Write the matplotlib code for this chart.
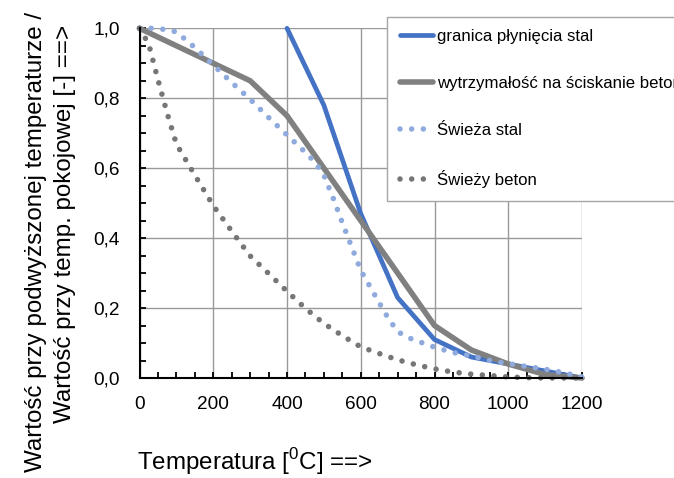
#! /usr/bin/env python3
import matplotlib
matplotlib.use('Agg')
import matplotlib.pyplot as plt
from matplotlib.ticker import MultipleLocator

plt.rcParams['font.family'] = ['Liberation Sans', 'DejaVu Sans']
plt.rcParams['mathtext.fontset'] = 'custom'
plt.rcParams['mathtext.rm'] = 'Liberation Sans'

# granica plyniecia stal
steel_t = [400, 500, 600, 700, 800, 900, 1000, 1100, 1200]
steel_k = [1.0, 0.78, 0.47, 0.23, 0.11, 0.06, 0.04, 0.02, 0.0]

# wytrzymalosc na sciskanie beton
conc_t = [0, 100, 200, 300, 400, 500, 600, 700, 800, 900, 1000, 1100, 1200]
conc_k = [1.0, 0.95, 0.90, 0.85, 0.75, 0.60, 0.45, 0.30, 0.15, 0.08, 0.04, 0.01, 0.0]

# swieza stal (dotted)
fsteel_t = [0, 50, 100, 150, 200, 250, 300, 350, 400, 450, 475, 500, 525, 550,
            600, 650, 675, 700, 725, 750, 800, 850, 900, 950, 1000, 1050, 1100,
            1150, 1200]
fsteel_k = [1.0, 1.0, 0.99, 0.945, 0.895, 0.845, 0.797, 0.745, 0.695, 0.645,
            0.618, 0.58, 0.515, 0.444, 0.308, 0.215, 0.17, 0.133, 0.117, 0.107,
            0.088, 0.073, 0.063, 0.05, 0.041, 0.033, 0.025, 0.015, 0.003]

# swiezy beton (dotted)
fconc_t = [0, 25, 50, 75, 100, 150, 200, 250, 300, 350, 400, 450, 500, 550,
           600, 650, 700, 750, 800, 850, 900, 950, 1000, 1050, 1100, 1150, 1200]
fconc_k = [1.0, 0.955, 0.853, 0.757, 0.669, 0.58, 0.493, 0.42, 0.349, 0.299,
           0.248, 0.199, 0.156, 0.121, 0.089, 0.07, 0.052, 0.038, 0.026, 0.017,
           0.011, 0.007, 0.003, 0.001, 0.0, 0.0, 0.0]

labels = ['granica płynięcia stal', 'wytrzymałość na ściskanie beton',
          'Świeża stal', 'Świeży beton']
y_ticks = [0.0, 0.2, 0.4, 0.6, 0.8, 1.0]
y_tick_labels = ['0,0', '0,2', '0,4', '0,6', '0,8', '1,0']
x_ticks = [0, 200, 400, 600, 800, 1000, 1200]

W, H = 674, 478


def main():
    fig = plt.figure(figsize=(W / 100, H / 100), dpi=100)
    ax = fig.add_axes([139.5 / W, 100 / H, (582 - 139.5) / W, 349.7 / H])

    dots = (0, (0.001, 2.1))
    ax.plot(steel_t, steel_k, color='#4472C4', lw=3.4, label=labels[0],
            solid_capstyle='round', clip_on=False, zorder=3)
    ax.plot(conc_t, conc_k, color='#808080', lw=4.0, label=labels[1],
            solid_capstyle='round', clip_on=False, zorder=3)
    ax.plot(fsteel_t, fsteel_k, color='#8FAADC', lw=4.0, ls=dots,
            dash_capstyle='round', label=labels[2], clip_on=False, zorder=3)
    ax.plot(fconc_t, fconc_k, color='#767676', lw=4.0, ls=dots,
            dash_capstyle='round', label=labels[3], clip_on=False, zorder=3)

    ax.set_xlim(0, 1200)
    ax.set_ylim(0, 1.0)
    ax.set_xticks(x_ticks)
    ax.set_yticks(y_ticks)
    ax.set_yticklabels(y_tick_labels)
    ax.xaxis.set_minor_locator(MultipleLocator(50))
    ax.yaxis.set_minor_locator(MultipleLocator(0.05))
    ax.tick_params(which='both', direction='in', length=4, width=1.3,
                   color='black', top=False, right=False)
    ax.tick_params(axis='x', pad=13.3, labelsize=13.7)
    ax.tick_params(axis='y', pad=14, labelsize=13.7)

    ax.grid(True, which='major', color='#999999', lw=1.0)
    ax.set_axisbelow(True)
    for side in ['top', 'right']:
        ax.spines[side].set_visible(False)
    for side in ['left', 'bottom']:
        ax.spines[side].set_linewidth(1.5)
        ax.spines[side].set_zorder(4)

    # legend runs past the right edge of the figure, as in the original
    leg = ax.legend(loc='upper left', bbox_to_anchor=(387 / W, 1 - 16.7 / H),
                    bbox_transform=fig.transFigure, fancybox=False,
                    framealpha=1, edgecolor='#a6a6a6', borderpad=0.75,
                    labelspacing=1.9, handlelength=2.0, handletextpad=0.2,
                    borderaxespad=0, prop={'size': 12.1})
    leg.get_frame().set_linewidth(1.0)
    leg.set_zorder(5)

    fig.text(137 / W, 1 - 470 / H, r'Temperatura [$^{\mathrm{0}}$C] ==>',
             fontsize=17.4, ha='left', va='baseline')
    fig.text(42 / W, 1 - 241.5 / H, 'Wartość przy podwyższonej temperaturze /',
             fontsize=17.4, rotation=90, rotation_mode='anchor',
             ha='center', va='baseline')
    fig.text(71 / W, 1 - 223.5 / H, 'Wartość przy temp. pokojowej [-] ==>',
             fontsize=17.4, rotation=90, rotation_mode='anchor',
             ha='center', va='baseline')

    fig.savefig('out.png', dpi=100)


if __name__ == '__main__':
    main()
